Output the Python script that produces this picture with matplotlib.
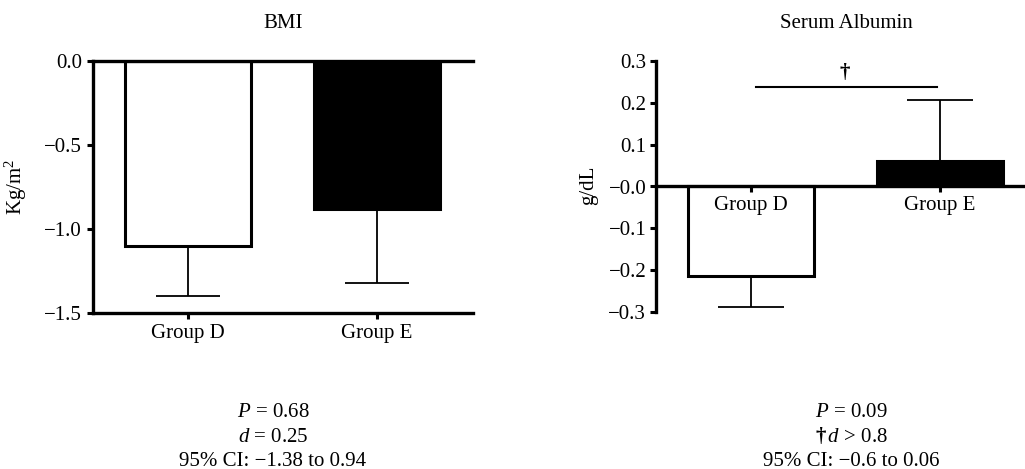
import matplotlib.pyplot as plt

plt.rcParams['font.family'] = ['Liberation Serif', 'DejaVu Serif']
plt.rcParams['mathtext.fontset'] = 'custom'
plt.rcParams['mathtext.rm'] = 'Liberation Serif'
plt.rcParams['mathtext.it'] = 'Liberation Serif:italic'
plt.rcParams['mathtext.bf'] = 'Liberation Serif:bold'

groups = ['Group D', 'Group E']
bar_colors = ['white', 'black']

# BMI change (Kg/m^2)
bmi_mean = [-1.10, -0.88]
bmi_err_low = [0.30, 0.44]
bmi_err_high = [0.0, 0.0]
bmi_ticks = [-1.5, -1.0, -0.5, 0.0]
bmi_ticklabels = ['\u22121.5', '\u22121.0', '\u22120.5', '0.0']

# Serum albumin change (g/dL)
alb_mean = [-0.215, 0.062]
alb_err_low = [0.072, 0.0]
alb_err_high = [0.0, 0.144]
alb_ticks = [-0.3, -0.2, -0.1, 0.0, 0.1, 0.2, 0.3]
alb_ticklabels = ['\u22120.3', '\u22120.2', '\u22120.1', '\u22120.0', '0.1', '0.2', '0.3']
sig_y = 0.237

stats_left = [r'$\it{P}$ = 0.68', r'$\it{d}$ = 0.25', '95% CI: \u22121.38 to 0.94']
stats_right = [r'$\it{P}$ = 0.09', '$\\mathbf{\u2020}\\,\\it{d}$ > 0.8', '95% CI: \u22120.6 to 0.06']

fs = 15
fig = plt.figure(figsize=(10.25, 4.69), dpi=100)
ax1 = fig.add_axes([93 / 1025, 1 - 313 / 469, 380 / 1025, 252 / 469])
ax2 = fig.add_axes([656 / 1025, 1 - 312 / 469, 380 / 1025, 251 / 469])

x = [0, 1]

# left panel
ax1.bar(x, bmi_mean, width=0.67, color=bar_colors, edgecolor='black', linewidth=2.2, zorder=2)
ax1.errorbar(x, bmi_mean, yerr=[bmi_err_low, bmi_err_high], fmt='none', ecolor='black',
             elinewidth=1.3, capsize=23, capthick=1.3, zorder=1)
ax1.set_xlim(-0.503, 1.508)
ax1.set_ylim(-1.5, 0.0)
ax1.set_yticks(bmi_ticks)
ax1.set_yticklabels(bmi_ticklabels, fontsize=fs)
ax1.set_xticks(x)
ax1.set_xticklabels(groups, fontsize=fs)
ax1.spines['right'].set_visible(False)
for s in ['left', 'bottom', 'top']:
    ax1.spines[s].set_linewidth(2.4)
ax1.tick_params(axis='both', direction='out', length=4, width=2.2, pad=4)
ax1.set_ylabel('Kg/m$^2$', fontsize=fs)
ax1.yaxis.set_label_coords(-0.168, 0.5)
ax1.set_title('BMI', fontsize=fs, pad=24)

# right panel
ax2.spines['bottom'].set_position(('data', 0))
ax2.set_axisbelow(False)
ax2.bar(x, alb_mean, width=0.67, color=bar_colors, edgecolor='black', linewidth=2.2, zorder=2)
ax2.errorbar(x, alb_mean, yerr=[alb_err_low, alb_err_high], fmt='none', ecolor='black',
             elinewidth=1.3, capsize=24, capthick=1.3, zorder=1)
ax2.set_xlim(-0.503, 1.508)
ax2.set_ylim(-0.3, 0.3)
ax2.set_yticks(alb_ticks)
ax2.set_yticklabels(alb_ticklabels, fontsize=fs)
ax2.set_xticks(x)
ax2.set_xticklabels(groups, fontsize=fs)
ax2.spines['right'].set_visible(False)
ax2.spines['top'].set_visible(False)
for s in ['left', 'bottom']:
    ax2.spines[s].set_linewidth(2.4)
ax2.tick_params(axis='both', direction='out', length=4, width=2.2, pad=3)
ax2.set_ylabel('g/dL', fontsize=fs)
ax2.yaxis.set_label_coords(-0.152, 0.506)
ax2.set_title('Serum Albumin', fontsize=fs, pad=24)
ax2.plot([0.026, 0.984], [sig_y, sig_y], color='black', linewidth=1.5, clip_on=False)
ax2.text(0.497, sig_y + 0.01, '\u2020', fontsize=fs, fontweight='bold', ha='center', va='bottom')

# statistics under the panels
ys = [1 - 412 / 469, 1 - 437 / 469, 1 - 461 / 469]
for line, y in zip(stats_left, ys):
    fig.text(273 / 1025, y, line, fontsize=fs, ha='center', va='center')
for line, y in zip(stats_right, ys):
    fig.text(851 / 1025, y, line, fontsize=fs, ha='center', va='center')

fig.savefig('out.png', dpi=100)
